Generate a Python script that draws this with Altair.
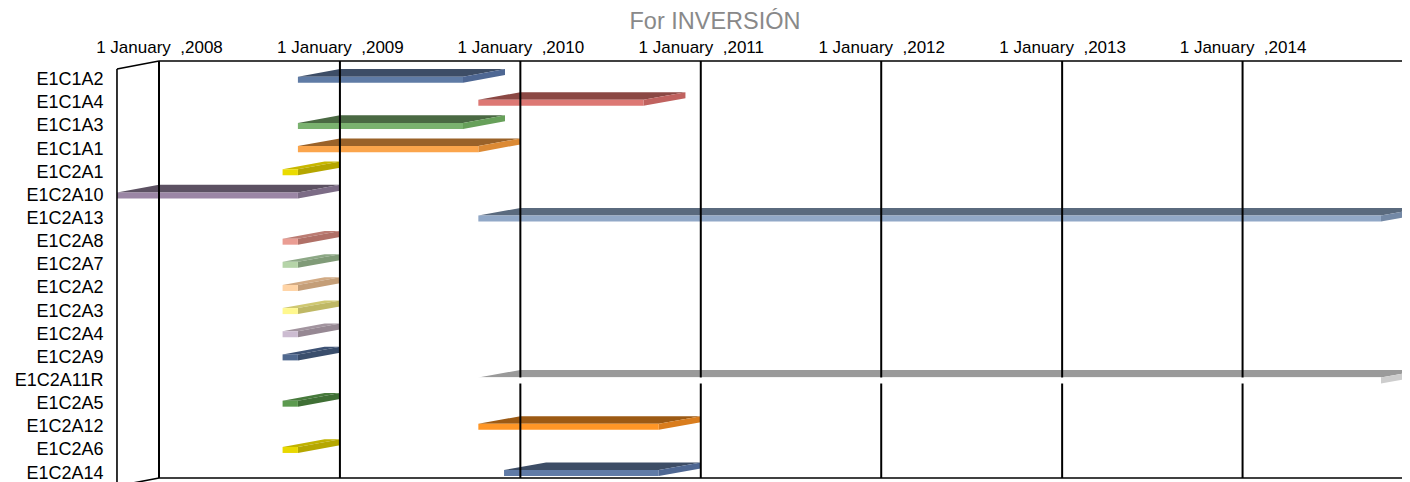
import altair as alt
import pandas as pd

TITLE = "For INVERSIÓN"
TASKS = ["E1C1A2", "E1C1A4", "E1C1A3", "E1C1A1", "E1C2A1", "E1C2A10", "E1C2A13",
         "E1C2A8", "E1C2A7", "E1C2A2", "E1C2A3", "E1C2A4", "E1C2A9", "E1C2A11R",
         "E1C2A5", "E1C2A12", "E1C2A6", "E1C2A14"]
STARTS = ["2009-01-01", "2010-01-01", "2009-01-01", "2009-01-01", "2008-12-01",
          "2008-01-01", "2010-01-01", "2008-12-01", "2008-12-01", "2008-12-01",
          "2008-12-01", "2008-12-01", "2008-12-01", "2010-01-01", "2008-12-01",
          "2010-01-01", "2008-12-01", "2010-02-22"]
ENDS = ["2009-12-01", "2010-12-01", "2009-12-01", "2010-01-01", "2009-01-01",
        "2009-01-01", "2015-01-01", "2009-01-01", "2009-01-01", "2009-01-01",
        "2009-01-01", "2009-01-01", "2009-01-01", "2015-01-01", "2009-01-01",
        "2011-01-01", "2009-01-01", "2011-01-01"]
YEARS = ["2008-01-01", "2009-01-01", "2010-01-01", "2011-01-01",
         "2012-01-01", "2013-01-01", "2014-01-01"]

# styles: front / top / side face colours per bar
FRONT = ["#5F7BA5", "#DD7874", "#7AB26F", "#FBA54C", "#EADB00", "#9B86A5", "#91A8C7",
         "#EA9D93", "#B5D4A8", "#FFD4A6", "#FFF88E", "#CCBCD1", "#50698F", "#FFFFFF",
         "#5C9A4F", "#FF9626", "#E8D800", "#607BA7"]
TOP = ["#3D4D66", "#8B4844", "#4A6943", "#9A6229", "#C8B700", "#5C5162", "#5A6A7E",
       "#BB7C73", "#8DA886", "#D1AA84", "#CFC872", "#A2949F", "#3D5274", "#9A9A9A",
       "#477A3C", "#9C5A14", "#C0B200", "#3D4D66"]
SIDE = ["#4E6793", "#C0625F", "#67A05A", "#DC8A35", "#B5A600", "#7C6C86", "#7489A6",
        "#B07067", "#809B78", "#C49E78", "#BFB865", "#968893", "#3A4E6C", "#CDCDCD",
        "#3F6F35", "#D97D1E", "#B5A700", "#4E6793"]

# layout / 3-D style constants
W, H = 1285, 425
DEPTH_MS = 85 * 86400000      # 3-D depth along the time axis
DY = 0.33                     # 3-D depth in rows
TH = 0.13                     # half thickness of front face in rows
BACK_BOTTOM = 417
FONT = "Liberation Sans"

bars = pd.DataFrame({"task": TASKS, "row": list(range(len(TASKS))),
                     "start": STARTS, "end": ENDS,
                     "front": FRONT, "top": TOP, "side": SIDE})
verts = bars.merge(pd.DataFrame({"edge": [0, 1]}), how="cross")
years = pd.DataFrame({"year": YEARS})
frame = pd.DataFrame({"x0": [YEARS[0]]})

t0 = pd.Timestamp(YEARS[0])
t1 = pd.Timestamp(max(ENDS))
xscale = alt.Scale(type="utc",
                   domain=[alt.DateTime(year=t0.year, month=1, date=1, utc=True),
                           alt.DateTime(year=t1.year, month=1, date=1, utc=True)],
                   range=[42, 1306], nice=False)
yscale = alt.Scale(domain=[-0.808, 17.558], reverse=True, nice=False, zero=False)

xaxis = alt.Axis(orient="top",
                 values=[alt.DateTime(year=pd.Timestamp(y).year, month=1, date=1, utc=True) for y in YEARS],
                 labelExpr="'1 January\u00a0 ,' + utcFormat(datum.value, '%Y')",
                 grid=False, ticks=False, tickSize=0, domain=False,
                 labelFlush=False, labelOverlap=False, labelPadding=9,
                 labelBaseline="alphabetic", labelAlign="center",
                 labelFont=FONT, labelFontSize=17, labelColor="#000000", title=None)
yaxis = alt.Axis(orient="left", values=list(range(len(TASKS))),
                 labelExpr="[" + ",".join("'%s'" % t for t in TASKS) + "][datum.value]",
                 grid=False, ticks=False, tickSize=0, domain=False,
                 labelPadding=14, labelOverlap=False, labelFlush=False,
                 labelFont=FONT, labelFontSize=18, labelColor="#000000",
                 labelAlign="right", labelBaseline="middle", title=None)

top_face = alt.Chart(verts).transform_calculate(
    xs=f"toDate(datum.start) - datum.edge * {DEPTH_MS}",
    xe=f"toDate(datum.end) - datum.edge * {DEPTH_MS}",
    yy=f"datum.row - {TH} - (1 - datum.edge) * {DY}",
).mark_area(orient="horizontal").encode(
    y=alt.Y("yy:Q", scale=yscale, axis=yaxis, stack=None),
    x=alt.X("xs:T", scale=xscale, axis=xaxis, stack=None),
    x2="xe:T",
    color=alt.Color("top:N", scale=None),
    detail="task:N",
)

side_face = alt.Chart(verts).transform_calculate(
    xx=f"toDate(datum.end) - datum.edge * {DEPTH_MS}",
    ya=f"datum.row - {TH} - (1 - datum.edge) * {DY}",
    yb=f"datum.row + {TH} - (1 - datum.edge) * {DY}",
).mark_area(orient="vertical").encode(
    x=alt.X("xx:T", scale=xscale, axis=xaxis, stack=None),
    y=alt.Y("ya:Q", scale=yscale, axis=yaxis, stack=None),
    y2="yb:Q",
    color=alt.Color("side:N", scale=None),
    detail="task:N",
)

front_base = alt.Chart(bars).transform_calculate(
    xs=f"toDate(datum.start) - {DEPTH_MS}",
    xe=f"toDate(datum.end) - {DEPTH_MS}",
    ya=f"datum.row - {TH}",
    yb=f"datum.row + {TH}",
).mark_rect().encode(
    x=alt.X("xs:T", scale=xscale, axis=xaxis),
    x2="xe:T",
    y=alt.Y("ya:Q", scale=yscale, axis=yaxis),
    y2="yb:Q",
    color=alt.Color("front:N", scale=None),
)
front_face = front_base
front_white = front_base.transform_filter("datum.front == '#FFFFFF'")

grid = alt.Chart(years).mark_rule(color="#000000", strokeWidth=2).encode(
    x=alt.X("year:T", scale=xscale, axis=xaxis),
    y=alt.value(0), y2=alt.value(BACK_BOTTOM),
)

top_border = alt.Chart(frame).mark_rule(color="#000000", strokeWidth=1.6).encode(
    x=alt.X("x0:T", scale=xscale, axis=xaxis), x2=alt.value(W), y=alt.value(0))
bottom_border = alt.Chart(frame).mark_rule(color="#000000", strokeWidth=1.6).encode(
    x=alt.X("x0:T", scale=xscale, axis=xaxis), x2=alt.value(W), y=alt.value(BACK_BOTTOM))

wall = alt.Chart(frame).transform_calculate(
    xf=f"toDate(datum.x0) - {DEPTH_MS}", xb="toDate(datum.x0)")
front_edge = wall.mark_rule(color="#000000", strokeWidth=1.6).encode(
    x=alt.X("xf:T", scale=xscale, axis=xaxis), y=alt.value(8), y2=alt.value(H))
top_diag = wall.mark_rule(color="#000000", strokeWidth=1.6).encode(
    x=alt.X("xf:T", scale=xscale, axis=xaxis), x2="xb:T",
    y=alt.value(8), y2=alt.value(0))
bottom_diag = wall.mark_rule(color="#000000", strokeWidth=1.6).encode(
    x=alt.X("xf:T", scale=xscale, axis=xaxis), x2="xb:T",
    y=alt.value(H), y2=alt.value(BACK_BOTTOM))

title = alt.Chart(pd.DataFrame({"t": [TITLE]})).mark_text(
    font=FONT, fontSize=23.5, color="#898989", baseline="alphabetic", align="center"
).encode(text="t:N", x=alt.value(598), y=alt.value(-32))

chart = alt.layer(
    top_face, side_face, front_face, grid, top_border, bottom_border,
    front_edge, top_diag, bottom_diag, front_white, title
).properties(
    width=W, height=H,
    autosize=alt.AutoSizeParams(type="none"),
    padding={"left": 109, "top": 53, "right": 0, "bottom": 0},
).configure_view(stroke=None)

chart.save("out.html", embed_options={"renderer": "svg", "actions": False})
